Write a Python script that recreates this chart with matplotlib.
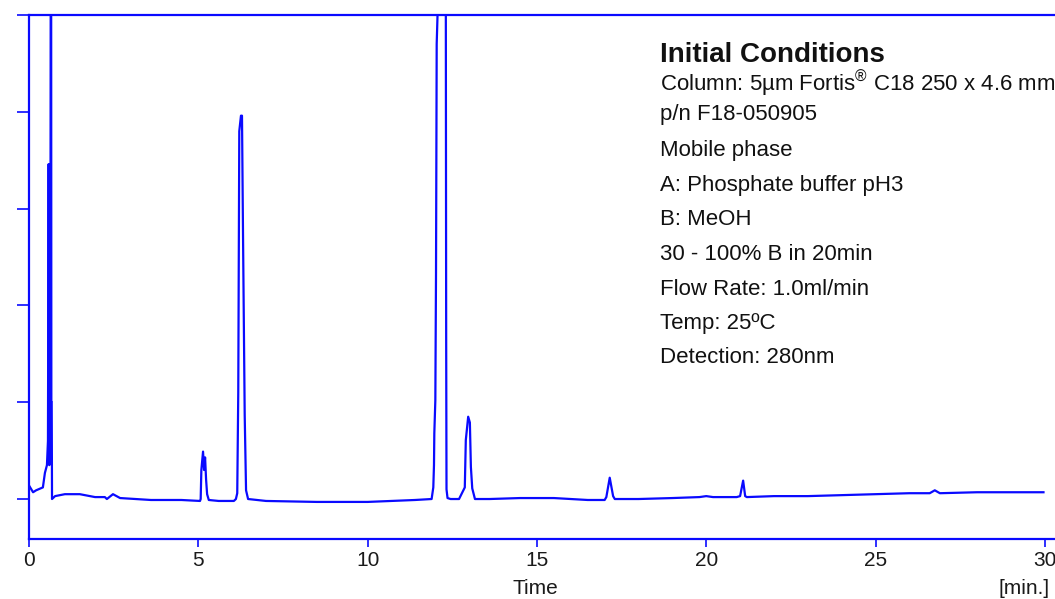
import matplotlib
matplotlib.use("Agg")
import matplotlib.pyplot as plt

# retention time (min) and detector signal
time = [0.00, 0.12, 0.21, 0.41, 0.47, 0.53, 0.56, 0.58, 0.60, 0.63, 0.65, 0.66, 0.67, 0.68,
        0.77, 1.06, 1.50, 1.95, 2.24, 2.30, 2.48, 2.69, 3.60, 4.50,
        5.05, 5.07, 5.09, 5.14, 5.17, 5.20, 5.23, 5.26, 5.31, 5.60,
        6.05, 6.11, 6.15, 6.18, 6.21, 6.26, 6.29, 6.32, 6.37, 6.41, 6.47,
        7.00, 8.50, 10.00, 11.40,
        11.89, 11.94, 11.96, 11.97, 12.00, 12.02, 12.04, 12.09, 12.20, 12.28, 12.31, 12.32, 12.33, 12.36, 12.45,
        12.70, 12.87, 12.90, 12.97, 13.02, 13.05, 13.09, 13.17,
        13.60, 14.50, 15.50, 16.50,
        17.00, 17.05, 17.15, 17.25, 17.30,
        18.00, 19.00, 19.80, 20.00, 20.20,
        20.90, 21.00, 21.09, 21.15, 21.20,
        22.00, 23.00, 24.00, 25.00, 26.00, 26.60, 26.75, 26.90, 28.00, 29.00, 29.96]
signal = [0.14, 0.07, 0.09, 0.12, 0.27, 0.35, 0.60, 3.46, 0.35, 0.90, 9.00, 1.00, 1.00, 0.00,
          0.03, 0.05, 0.05, 0.02, 0.02, 0.00, 0.05, 0.01, -0.01, -0.01,
          -0.02, 0.00, 0.30, 0.49, 0.30, 0.43, 0.20, 0.05, -0.01, -0.02,
          -0.02, 0.00, 0.06, 1.10, 3.80, 3.96, 3.96, 2.75, 0.87, 0.09, 0.00,
          -0.02, -0.03, -0.03, -0.01,
          0.00, 0.12, 0.35, 0.68, 1.02, 2.33, 4.70, 5.30, 9.00, 8.00, 5.00, 1.67, 0.10, 0.01, 0.00,
          0.00, 0.12, 0.61, 0.85, 0.79, 0.33, 0.11, 0.00,
          0.00, 0.01, 0.01, -0.01,
          -0.01, 0.02, 0.22, 0.03, 0.00,
          0.00, 0.01, 0.02, 0.03, 0.02,
          0.02, 0.03, 0.19, 0.03, 0.02,
          0.03, 0.03, 0.04, 0.05, 0.06, 0.06, 0.09, 0.06, 0.07, 0.07, 0.07]

x_ticks = [0, 5, 10, 15, 20, 25, 30]
y_ticks = [0, 1, 2, 3, 4, 5]

info_title = "Initial Conditions"
info_lines = [
    r"Column: 5µm Fortis$^{®}$ C18 250 x 4.6 mm",
    "p/n F18-050905",
    "Mobile phase",
    "A: Phosphate buffer pH3",
    "B: MeOH",
    "30 - 100% B in 20min",
    "Flow Rate: 1.0ml/min",
    "Temp: 25ºC",
    "Detection: 280nm",
]
# baselines of the info lines in pixels from the top
info_base = [91, 120, 156, 191, 225, 260, 295, 329, 363]

BLUE = "#0a0aff"
W, H = 1055, 599

plt.rcParams["font.family"] = ["Liberation Sans", "DejaVu Sans"]
plt.rcParams["mathtext.fontset"] = "custom"
plt.rcParams["mathtext.rm"] = "Liberation Sans"
plt.rcParams["mathtext.it"] = "Liberation Sans"

fig = plt.figure(figsize=(W / 100, H / 100), dpi=100)
ax = fig.add_axes([29 / W, 1 - 539 / H, 1 - 29 / W, (539 - 15) / H])

ax.plot(time, signal, color=BLUE, linewidth=1.6)

ax.set_xlim(0, 30.3)
ax.set_ylim(-0.413, 5.0)
ax.set_xticks(x_ticks)
ax.set_yticks(y_ticks)
ax.set_yticklabels([])
ax.tick_params(axis="x", colors=BLUE, length=6, width=1.2, pad=2.5,
               labelsize=15, labelcolor="#1a1a1a")
ax.tick_params(axis="y", colors=BLUE, length=9, width=1.2)
for side in ["left", "bottom", "top"]:
    ax.spines[side].set_color(BLUE)
    ax.spines[side].set_linewidth(1.6)
ax.spines["right"].set_visible(False)

fig.text(535 / W, 1 - 588 / H, "Time", ha="center", va="center", fontsize=15, color="#1a1a1a")
fig.text(1024 / W, 1 - 588 / H, "[min.]", ha="center", va="center", fontsize=15, color="#1a1a1a")

fig.text(660 / W, 1 - 62 / H, info_title, ha="left", va="baseline",
         fontsize=20, fontweight="bold", color="#111111")
for line, yb in zip(info_lines, info_base):
    fig.text(660 / W, 1 - yb / H, line, ha="left", va="baseline", fontsize=16, color="#111111")

fig.savefig("out.png", dpi=100)
